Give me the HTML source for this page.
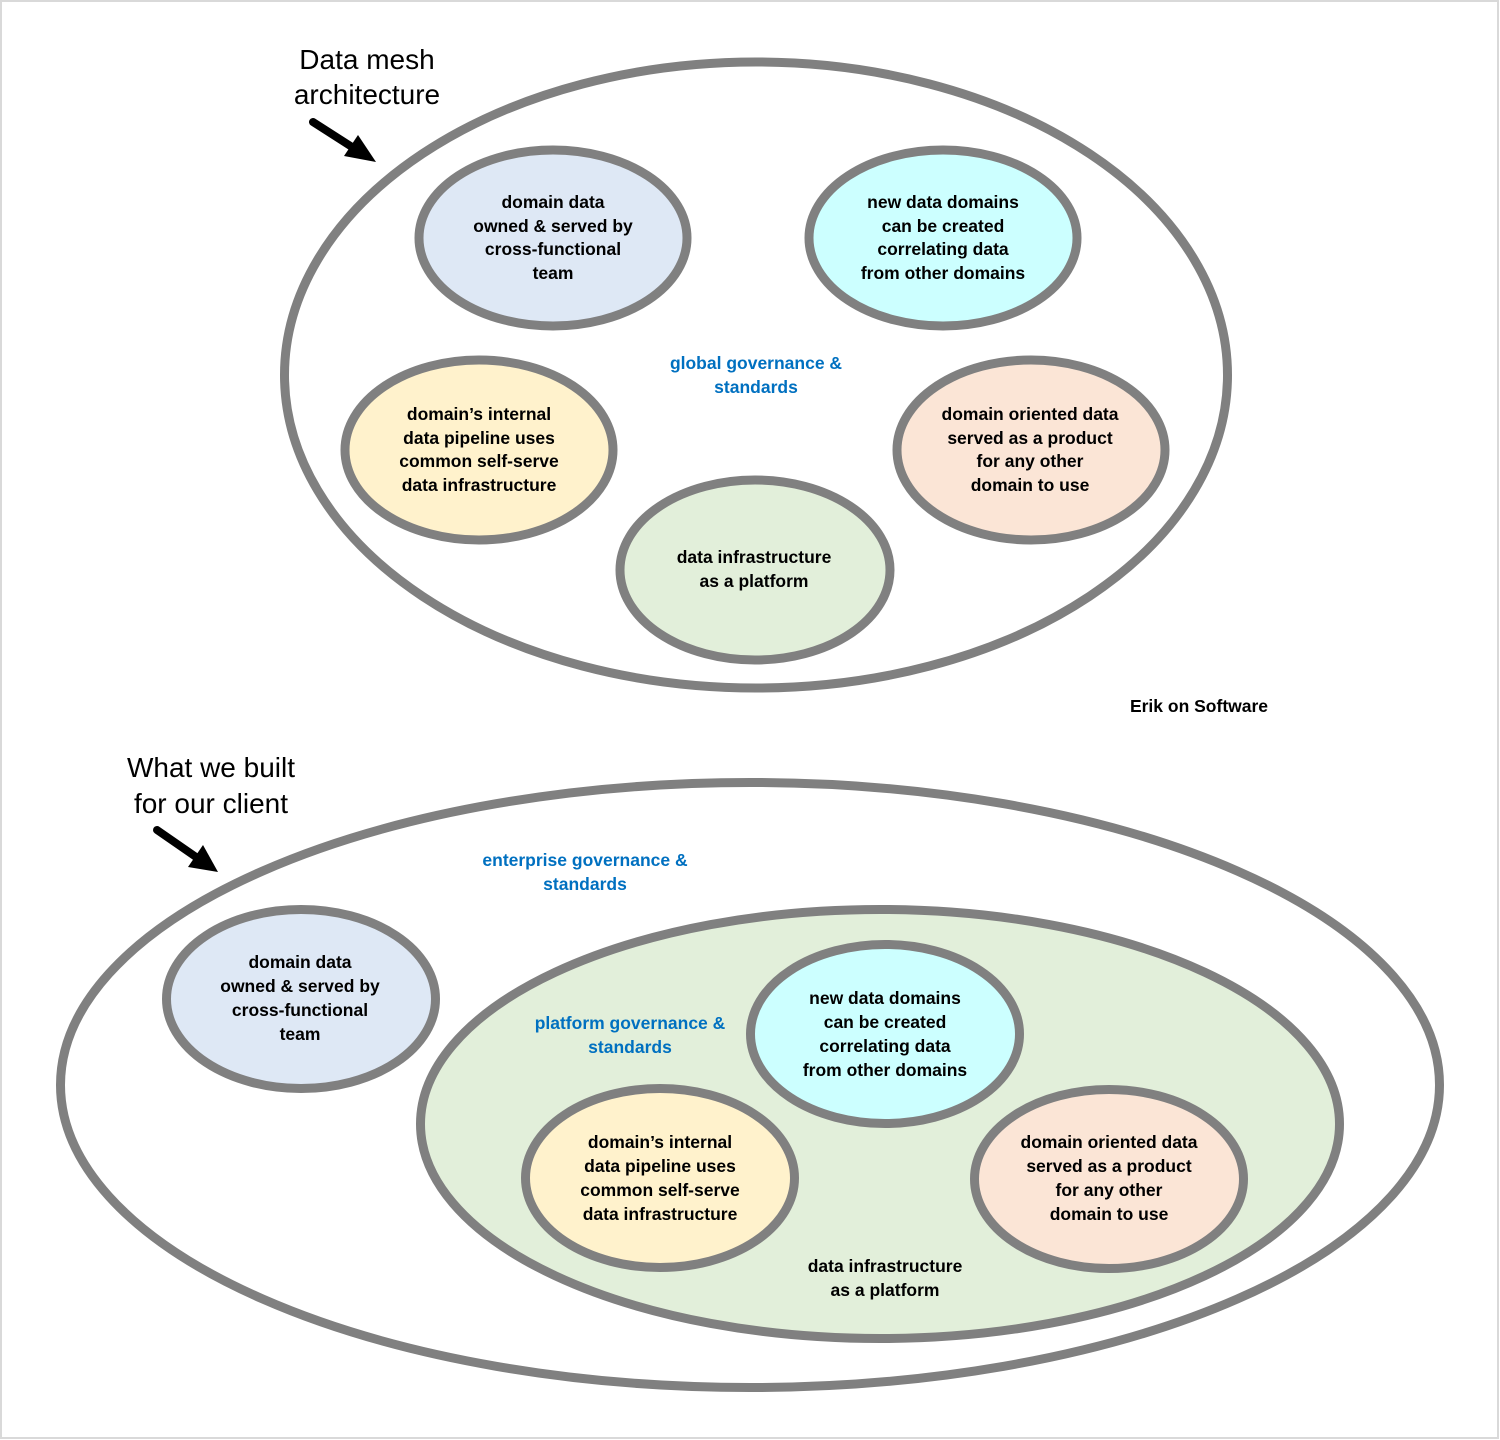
<!DOCTYPE html>
<html>
<head>
<meta charset="utf-8">
<style>
  html,body{margin:0;padding:0;background:#fff;}
  svg{display:block;}
  text{font-family:"Liberation Sans",Arial,sans-serif;}
  .t{font-size:17.5px;font-weight:bold;fill:#000;text-anchor:middle;}
  .b{font-size:17.5px;font-weight:bold;fill:#0070C0;text-anchor:middle;}
  .h{font-size:28px;fill:#000;text-anchor:middle;}
</style>
</head>
<body>
<svg width="1500" height="1440" viewBox="0 0 1500 1440" xmlns="http://www.w3.org/2000/svg">
  <rect x="0" y="0" width="1500" height="1440" fill="#fff"/>
  <rect x="1" y="1" width="1497" height="1437" fill="none" stroke="#d9d9d9" stroke-width="2"/>

  <!-- ===== TOP DIAGRAM ===== -->
  <ellipse cx="756" cy="375" rx="471.5" ry="313" fill="#fff" stroke="#808080" stroke-width="9"/>
  <ellipse cx="553" cy="238" rx="134" ry="88" fill="#dee8f5" stroke="#808080" stroke-width="9"/>
  <ellipse cx="943" cy="238" rx="134" ry="88" fill="#ccffff" stroke="#808080" stroke-width="9"/>
  <ellipse cx="479" cy="450" rx="134" ry="90" fill="#fff2cc" stroke="#808080" stroke-width="9"/>
  <ellipse cx="1031" cy="450" rx="134" ry="90" fill="#fbe5d6" stroke="#808080" stroke-width="9"/>
  <ellipse cx="755" cy="570" rx="135" ry="90" fill="#e2efda" stroke="#808080" stroke-width="9"/>

  <text class="h" x="367" y="69">Data mesh</text>
  <text class="h" x="367" y="104">architecture</text>
  <line x1="313" y1="122" x2="352" y2="147" stroke="#000" stroke-width="8" stroke-linecap="round"/>
  <polygon points="376,162 344,156 358,135" fill="#000"/>

  <text class="t" x="553" y="208">domain data</text>
  <text class="t" x="553" y="232">owned &amp; served by</text>
  <text class="t" x="553" y="255">cross-functional</text>
  <text class="t" x="553" y="279">team</text>

  <text class="t" x="943" y="208">new data domains</text>
  <text class="t" x="943" y="232">can be created</text>
  <text class="t" x="943" y="255">correlating data</text>
  <text class="t" x="943" y="279">from other domains</text>

  <text class="b" x="756" y="369">global governance &amp;</text>
  <text class="b" x="756" y="393">standards</text>

  <text class="t" x="479" y="420">domain’s internal</text>
  <text class="t" x="479" y="444">data pipeline uses</text>
  <text class="t" x="479" y="467">common self-serve</text>
  <text class="t" x="479" y="491">data infrastructure</text>

  <text class="t" x="1030" y="420">domain oriented data</text>
  <text class="t" x="1030" y="444">served as a product</text>
  <text class="t" x="1030" y="467">for any other</text>
  <text class="t" x="1030" y="491">domain to use</text>

  <text class="t" x="754" y="563">data infrastructure</text>
  <text class="t" x="754" y="587">as a platform</text>

  <text class="t" x="1199" y="712">Erik on Software</text>

  <!-- ===== BOTTOM DIAGRAM ===== -->
  <ellipse cx="750" cy="1085" rx="689.5" ry="302.5" fill="#fff" stroke="#808080" stroke-width="9"/>
  <ellipse cx="880" cy="1124" rx="459.5" ry="214.5" fill="#e2efda" stroke="#808080" stroke-width="9"/>
  <ellipse cx="301" cy="999" rx="134.5" ry="89.5" fill="#dee8f5" stroke="#808080" stroke-width="9"/>
  <ellipse cx="885" cy="1034" rx="134.5" ry="89.5" fill="#ccffff" stroke="#808080" stroke-width="9"/>
  <ellipse cx="660" cy="1178" rx="134.5" ry="89.5" fill="#fff2cc" stroke="#808080" stroke-width="9"/>
  <ellipse cx="1109" cy="1179" rx="134.5" ry="89.5" fill="#fbe5d6" stroke="#808080" stroke-width="9"/>

  <text class="h" x="211" y="777">What we built</text>
  <text class="h" x="211" y="813">for our client</text>
  <line x1="157" y1="830" x2="196" y2="857" stroke="#000" stroke-width="8" stroke-linecap="round"/>
  <polygon points="218,872 188,867 203,845" fill="#000"/>

  <text class="b" x="585" y="866">enterprise governance &amp;</text>
  <text class="b" x="585" y="890">standards</text>

  <text class="t" x="300" y="968">domain data</text>
  <text class="t" x="300" y="992">owned &amp; served by</text>
  <text class="t" x="300" y="1016">cross-functional</text>
  <text class="t" x="300" y="1040">team</text>

  <text class="b" x="630" y="1029">platform governance &amp;</text>
  <text class="b" x="630" y="1053">standards</text>

  <text class="t" x="885" y="1004">new data domains</text>
  <text class="t" x="885" y="1028">can be created</text>
  <text class="t" x="885" y="1052">correlating data</text>
  <text class="t" x="885" y="1076">from other domains</text>

  <text class="t" x="660" y="1148">domain’s internal</text>
  <text class="t" x="660" y="1172">data pipeline uses</text>
  <text class="t" x="660" y="1196">common self-serve</text>
  <text class="t" x="660" y="1220">data infrastructure</text>

  <text class="t" x="1109" y="1148">domain oriented data</text>
  <text class="t" x="1109" y="1172">served as a product</text>
  <text class="t" x="1109" y="1196">for any other</text>
  <text class="t" x="1109" y="1220">domain to use</text>

  <text class="t" x="885" y="1272">data infrastructure</text>
  <text class="t" x="885" y="1296">as a platform</text>
</svg>
</body>
</html>
